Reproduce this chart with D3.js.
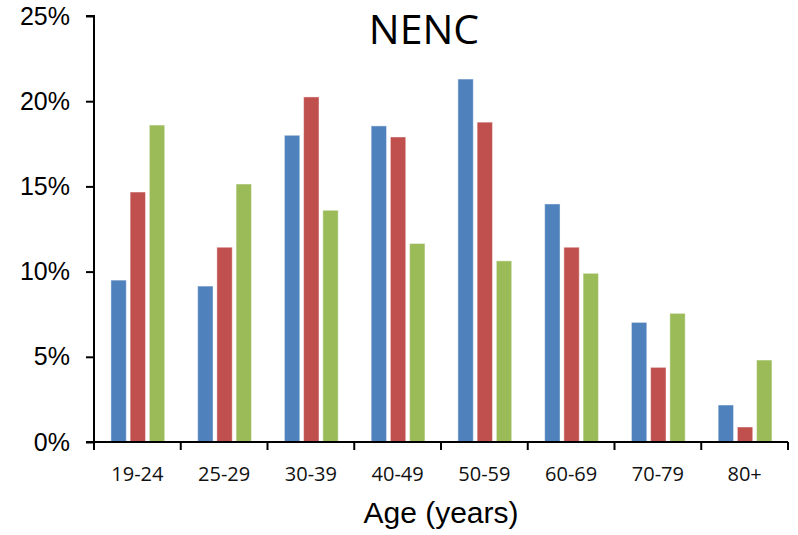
<!DOCTYPE html>
<html>
<head>
<meta charset="utf-8">
<script src="https://cdn.jsdelivr.net/npm/d3@7"></script>
<style>
  body { margin: 0; background: #fff; }
  svg { display: block; }
</style>
</head>
<body>
<div id="chart"></div>
<script>
// data (percent)
var ageGroups = ["19-24", "25-29", "30-39", "40-49", "50-59", "60-69", "70-79", "80+"];
var seriesBlue = [9.5, 9.15, 18.0, 18.55, 21.3, 13.97, 7.02, 2.17];
var seriesRed = [14.67, 11.43, 20.25, 17.9, 18.77, 11.43, 4.38, 0.88];
var seriesGreen = [18.6, 15.14, 13.6, 11.65, 10.63, 9.9, 7.55, 4.81];
var yTicks = [0, 5, 10, 15, 20, 25];
var seriesNames = ["blue", "red", "green"];
var colors = ["#4F81BD", "#C0504D", "#9BBB59"];

var W = 798, H = 535;
var margin = { top: 16, right: 10, bottom: 93, left: 94 },
    width = W - margin.left - margin.right,
    height = H - margin.top - margin.bottom;

var rows = ageGroups.map(function (g, i) {
    return { group: g, values: [seriesBlue[i], seriesRed[i], seriesGreen[i]] };
});

var svg = d3.select("#chart")
    .append("svg")
    .attr("width", W)
    .attr("height", H);

var g = svg.append("g")
    .attr("transform", "translate(" + margin.left + "," + margin.top + ")");

var x0 = d3.scaleBand()
    .domain(ageGroups)
    .range([0, width])
    .padding(0);

var bw = x0.bandwidth();
var x1 = d3.scaleBand()
    .domain(seriesNames)
    .range([bw * 0.195, bw * 0.815])
    .paddingInner(0.2)
    .paddingOuter(0);

var y = d3.scaleLinear()
    .domain([0, 25])
    .range([height, 0]);

// bars
var groups = g.selectAll(".grp")
    .data(rows)
    .enter().append("g")
    .attr("class", "grp")
    .attr("transform", function (d) { return "translate(" + x0(d.group) + ",0)"; });

groups.selectAll("rect")
    .data(function (d) { return d.values.map(function (v, i) { return { key: seriesNames[i], v: v, c: colors[i] }; }); })
    .enter().append("rect")
    .attr("x", function (d) { return x1(d.key); })
    .attr("width", x1.bandwidth())
    .attr("y", function (d) { return y(d.v); })
    .attr("height", function (d) { return height - y(d.v); })
    .attr("fill", function (d) { return d.c; })
    .attr("stroke", "rgba(255,255,255,0.45)")
    .attr("stroke-width", 1);

// y axis
var yAxis = d3.axisLeft(y)
    .tickValues(yTicks)
    .tickFormat(function (d) { return d + "%"; })
    .tickSize(8)
    .tickPadding(16);

var ya = g.append("g").call(yAxis);
ya.select(".domain").attr("stroke", "#000").attr("stroke-width", 2).attr("d", "M0," + height + "V0H-8");
ya.selectAll(".tick line").attr("stroke", "#000").attr("stroke-width", 2);
ya.selectAll("text")
    .attr("font-family", "Liberation Sans, Arial, sans-serif")
    .attr("font-size", 25)
    .attr("fill", "#000");

// x axis: ticks at group boundaries
var xa = g.append("g").attr("transform", "translate(0," + height + ")");
xa.append("line")
    .attr("x1", -8).attr("x2", width)
    .attr("stroke", "#000").attr("stroke-width", 2);
xa.selectAll(".xt")
    .data(ageGroups.concat(["end"]))
    .enter().append("line")
    .attr("x1", function (d, i) { return i * bw; })
    .attr("x2", function (d, i) { return i * bw; })
    .attr("y1", 0).attr("y2", 8)
    .attr("stroke", "#000").attr("stroke-width", 2);
xa.selectAll(".xl")
    .data(ageGroups)
    .enter().append("text")
    .attr("x", function (d) { return x0(d) + bw / 2; })
    .attr("y", 39)
    .attr("text-anchor", "middle")
    .attr("font-family", "Open Sans, sans-serif")
    .attr("font-size", 20)
    .attr("fill", "#111")
    .text(function (d) { return d; });

// axis title
svg.append("text")
    .attr("x", margin.left + width / 2)
    .attr("y", 523)
    .attr("text-anchor", "middle")
    .attr("font-family", "Liberation Sans, Arial, sans-serif")
    .attr("font-size", 30)
    .attr("fill", "#000")
    .text("Age (years)");

// chart title
svg.append("text")
    .attr("x", 424)
    .attr("y", 44)
    .attr("text-anchor", "middle")
    .attr("font-family", "Open Sans, sans-serif")
    .attr("font-size", 41)
    .attr("fill", "#000")
    .text("NENC");
</script>
</body>
</html>
